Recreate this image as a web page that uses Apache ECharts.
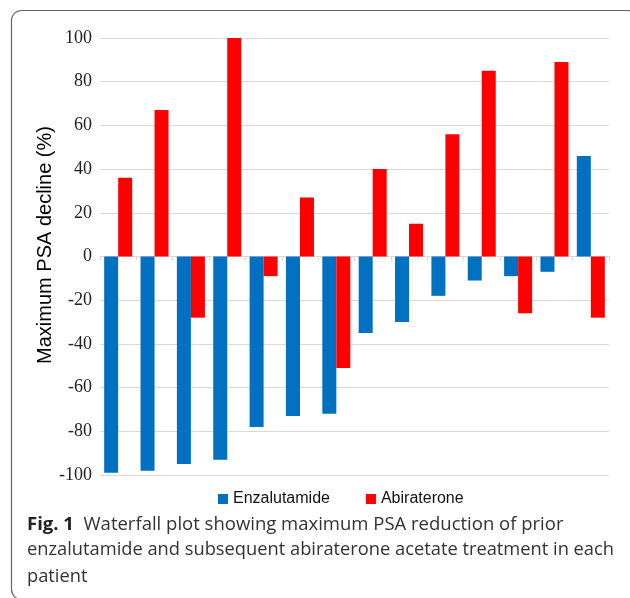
<!DOCTYPE html>
<html>
<head>
<meta charset="utf-8">
<script src="https://cdn.jsdelivr.net/npm/echarts@6/dist/echarts.min.js"></script>
<style>
html,body{margin:0;padding:0;background:#fff;}
#c{width:630px;height:598px;}
</style>
</head>
<body>
<div id="c"></div>
<script>
const patients = ['1','2','3','4','5','6','7','8','9','10','11','12','13','14'];
const enzalutamide = [-99, -98, -95, -93, -78, -73, -72, -35, -30, -18, -11, -9, -7, 46];
const abiraterone = [36, 67, -28, 100, -9, 27, -51, 40, 15, 56, 85, -26, 89, -28];
const yTicks = {min: -100, max: 100, interval: 20};
const seriesNames = ['Enzalutamide', 'Abiraterone'];
const yAxisTitle = 'Maximum PSA decline (%)';
const captionBold = 'Fig. 1';
const captionLines = [
  'Waterfall plot showing maximum PSA reduction of prior',
  'enzalutamide and subsequent abiraterone acetate treatment in each',
  'patient'
];

const chart = echarts.init(document.getElementById('c'), null, {renderer: 'canvas'});
const option = {
  animation: false,
  backgroundColor: '#fff',
  grid: {left: 100, right: 21, top: 38, bottom: 123, containLabel: false},
  legend: {
    data: seriesNames,
    left: 213, top: 486,
    itemWidth: 10, itemHeight: 10, itemGap: 36,
    icon: 'rect',
    textStyle: {fontFamily: 'Liberation Sans', fontSize: 16, color: '#111'}
  },
  xAxis: {
    type: 'category',
    data: patients,
    axisLine: {onZero: true, lineStyle: {color: '#d9d9d9', width: 1}},
    axisTick: {show: true, length: 4, lineStyle: {color: '#d9d9d9'}},
    axisLabel: {show: false},
    splitLine: {show: false}
  },
  yAxis: {
    type: 'value',
    min: yTicks.min, max: yTicks.max, interval: yTicks.interval,
    axisLine: {show: false},
    axisTick: {show: false},
    axisLabel: {fontFamily: 'Liberation Serif', fontSize: 18, color: '#222', margin: 8},
    splitLine: {lineStyle: {color: '#d9d9d9', width: 1}}
  },
  series: [
    {name: seriesNames[0], type: 'bar', data: enzalutamide, barWidth: 14, barGap: '0%',
     itemStyle: {color: '#0070C0'}},
    {name: seriesNames[1], type: 'bar', data: abiraterone, barWidth: 14, barGap: '0%',
     itemStyle: {color: '#FF0000'}}
  ],
  graphic: [
    {type: 'text', x: 45, y: 245, rotation: Math.PI / 2, z: 100,
     style: {text: yAxisTitle, font: '20px "Liberation Sans"', fill: '#000',
       align: 'center', verticalAlign: 'middle'}},
    {type: 'rect', shape: {x: 11.5, y: 10.5, width: 626, height: 589, r: 10},
     style: {fill: 'none', stroke: '#666', lineWidth: 1.2}, silent: true, z: 100},
    {type: 'text', left: 27, top: 515, z: 100,
     style: {text: '{b|' + captionBold + '}  ' + captionLines[0],
       font: '18.5px "Open Sans"', fill: '#333',
       rich: {b: {fontFamily: 'Open Sans', fontSize: 18.5, fontWeight: 'bold', fill: '#222'}}}},
    {type: 'text', left: 27, top: 541, z: 100,
     style: {text: captionLines[1], font: '18.3px "Open Sans"', fill: '#333'}},
    {type: 'text', left: 27, top: 568, z: 100,
     style: {text: captionLines[2], font: '18.3px "Open Sans"', fill: '#333'}}
  ]
};
chart.setOption(option);
</script>
</body>
</html>
